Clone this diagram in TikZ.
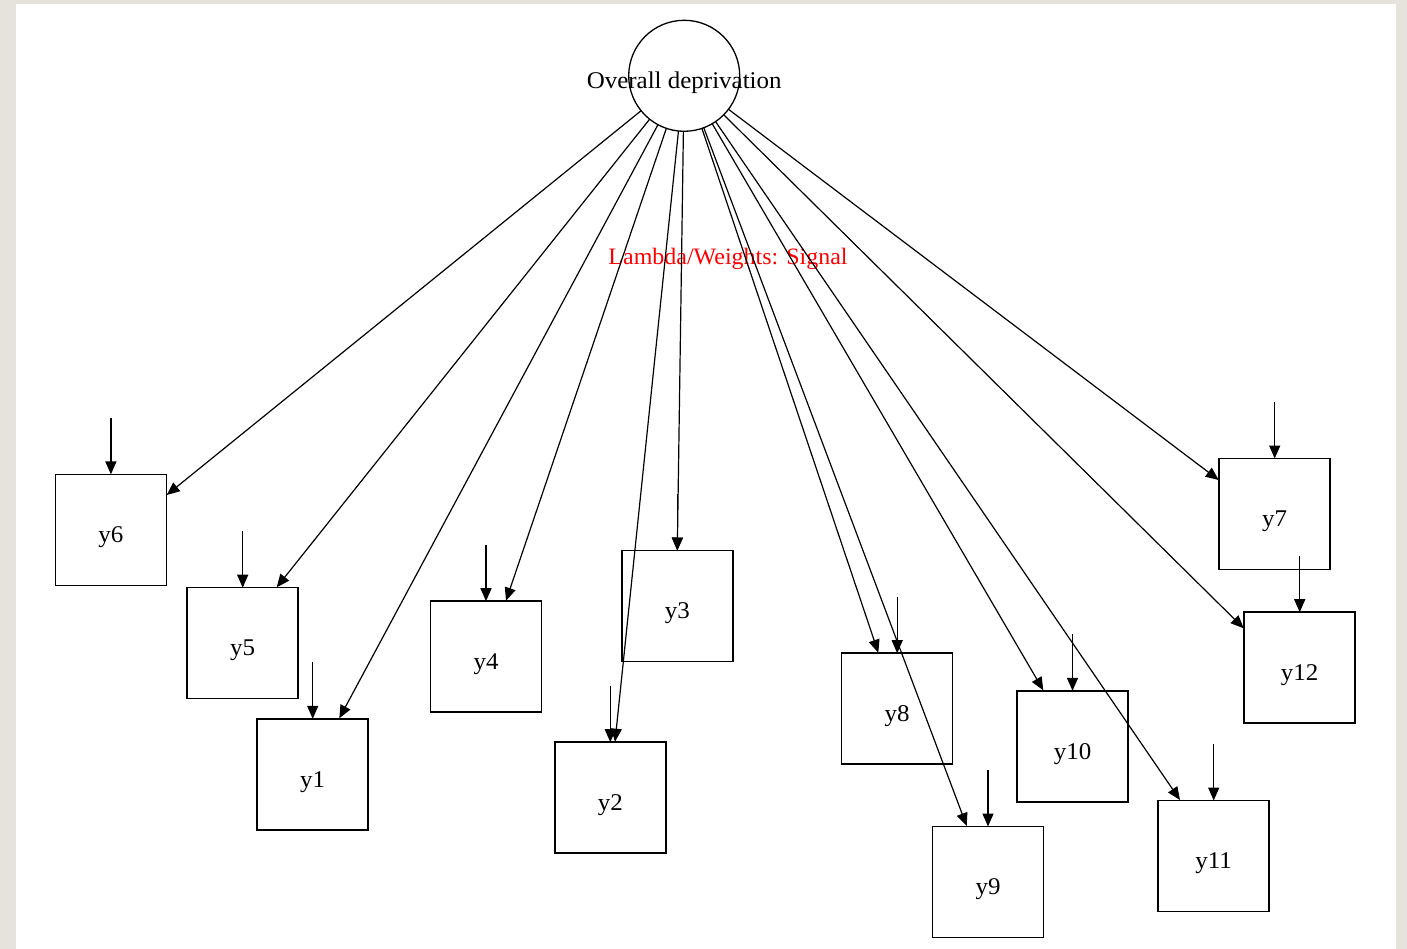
\documentclass[tikz,border=0pt]{standalone}
\usepackage{fontspec}
\setmainfont{Liberation Serif}
\newfontfamily\labfont[FakeStretch=1.04]{Liberation Serif}
\newfontfamily\redfont[FakeStretch=1.02]{Liberation Serif}
\usetikzlibrary{arrows.meta,calc}
\definecolor{pagebg}{RGB}{230,227,220}
\tikzset{
  obs/.style={draw, line width=1.5pt, rectangle, minimum size=111pt, inner sep=0pt, outer sep=0pt,
    font=\labfont\fontsize{24}{28}\selectfont, text height=25.4pt, text depth=0pt},
  lat/.style={draw, line width=1.3pt, circle, minimum size=111pt, inner sep=0pt, outer sep=0pt},
  load/.style={line width=1.2pt, -{Triangle[length=13pt,width=11pt]}},
  err/.style={line width=1.4pt, -{Triangle[length=13pt,width=11pt]}},
}
\begin{document}
\begin{tikzpicture}[x=1pt,y=-1pt]
\useasboundingbox (0,0) rectangle (1407,949);
\fill[pagebg] (0,0) rectangle (1407,949);
\fill[white] (16,4) rectangle (1396,949);

% latent
\node[lat] (ov) at (684.2,75.8) {};
\node[font=\labfont\fontsize{24}{28}\selectfont, anchor=base, inner sep=0pt] (ovt) at (684.2,88.3) {Overall deprivation};

% observed
\node[obs] (y6) at (110.9,529.9) {y6};
\node[obs] (y5) at (242.7,643.2) {y5};
\node[obs] (y1) at (312.7,774.3) {y1};
\node[obs] (y4) at (486,656.7) {y4};
\node[obs] (y3) at (677.3,606) {y3};
\node[obs] (y2) at (610.3,797.7) {y2};
\node[obs] (y8) at (897.2,708.7) {y8};
\node[obs] (y9) at (988,882) {y9};
\node[obs] (y10) at (1072.5,746.3) {y10};
\node[obs] (y11) at (1213.7,856) {y11};
\node[obs] (y7) at (1274.7,514) {y7};
\node[obs] (y12) at (1299.7,667.7) {y12};

% label
\node[font=\redfont\fontsize{23.5}{27}\selectfont, text=red, anchor=base, inner sep=0pt] (lam) at (728,265) {Lambda/Weights: Signal};

% loading end points
\coordinate (t6) at (166.7,495);
\coordinate (t5) at (276.7,587.3);
\coordinate (t1) at (339.3,718.3);
\coordinate (t4) at (506,600.7);
\coordinate (t2) at (615,741.7);
\coordinate (t8) at (878.3,652.7);
\coordinate (t9) at (966.7,826);
\coordinate (t10) at (1043.3,690.3);
\coordinate (t11) at (1180,800);
\coordinate (t7) at (1218.7,480);
\coordinate (t12) at (1243.7,628.3);

\foreach \t in {t6,t5,t1,t4,t2,t8,t9,t10,t11,t7,t12}
  \draw[load] (ov) -- (\t);
\draw[load] (ov) -- (y3.north);

% error arrows
\foreach \b in {y6,y5,y1,y4,y3,y2,y8,y9,y10,y11,y7,y12}{
  \coordinate (e\b) at ($(\b.north)+(0,-56.5)$);
  \draw[err] (e\b) -- (\b.north);
}
\end{tikzpicture}
\end{document}
